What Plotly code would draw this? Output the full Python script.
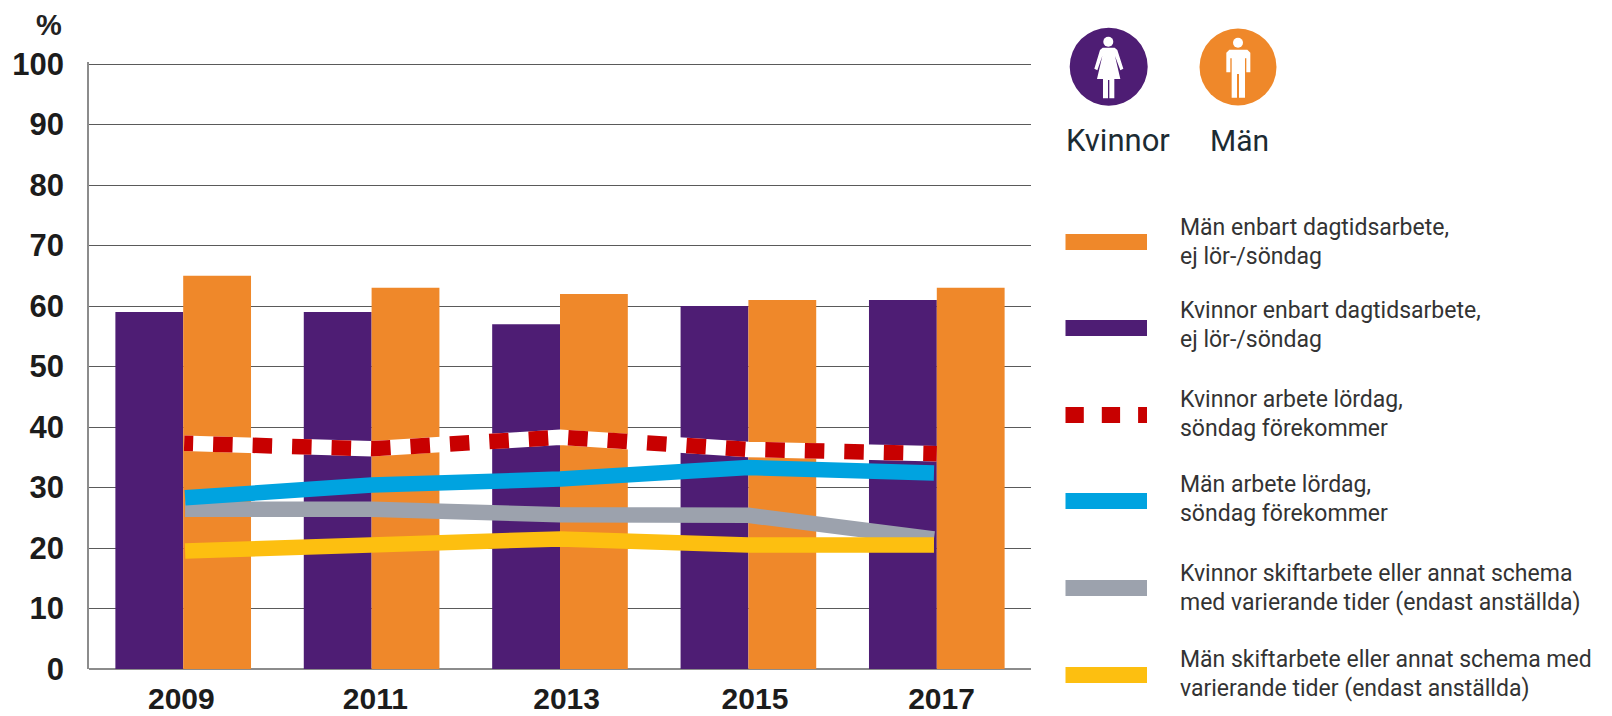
import plotly.graph_objects as go

W, H = 1612, 716

years = [2009, 2011, 2013, 2015, 2017]
tick_positions = [2008.98, 2011.04, 2013.07, 2015.07, 2017.05]
tick_labels = ["2009", "2011", "2013", "2015", "2017"]
y_ticks = [0, 10, 20, 30, 40, 50, 60, 70, 80, 90, 100]

women_day = [59, 59, 57, 60, 61]
men_day = [65, 63, 62, 61, 63]
women_weekend = [37.3, 36.4, 38.3, 36.3, 35.6]
men_weekend = [28.3, 30.4, 31.4, 33.3, 32.4]
women_shift = [26.4, 26.4, 25.5, 25.4, 21.5]
men_shift = [19.5, 20.5, 21.5, 20.5, 20.5]
line_x = [2009.02, 2011, 2013, 2015, 2016.97]

legend_items = [
    ("Män enbart dagtidsarbete,", "ej lör-/söndag", "#EF882A", 242, 242),
    ("Kvinnor enbart dagtidsarbete,", "ej lör-/söndag", "#4E1D74", 328, 325),
    ("Kvinnor arbete lördag,", "söndag förekommer", "#C80000", 415, 414),
    ("Män arbete lördag,", "söndag förekommer", "#00A3E0", 501, 499),
    ("Kvinnor skiftarbete eller annat schema", "med varierande tider (endast anställda)", "#9CA2AD", 588, 588),
    ("Män skiftarbete eller annat schema med", "varierande tider (endast anställda)", "#FDBF10", 675, 674),
]


def fx(x):
    return x / W


def fy(y):
    return 1 - y / H


def path(points):
    return "M" + " L".join(f"{fx(x):.5f},{fy(y):.5f}" for x, y in points) + " Z"


def zoom_pts(points):
    return [(1040 + a / 3, b / 3) for a, b in points]


fig = go.Figure()
fig.add_bar(x=years, y=women_day, marker=dict(color="#4E1D74", line_width=0), name="Kvinnor enbart dagtidsarbete")
fig.add_bar(x=years, y=men_day, marker=dict(color="#EF882A", line_width=0), name="Män enbart dagtidsarbete")

dash = "9px,20px," + ",".join(["19.5px,20px"] * 22)
x_red = [2009.01, 2011, 2013, 2015, 2017]
fig.add_scatter(x=x_red, y=women_weekend, mode="lines", line=dict(color="white", width=15.5), hoverinfo="skip")
fig.add_scatter(x=x_red, y=women_weekend, mode="lines", line=dict(color="#C80000", width=15.5, dash=dash), name="Kvinnor arbete lördag")
fig.add_scatter(x=line_x, y=women_shift, mode="lines", line=dict(color="#9CA2AD", width=15.5), name="Kvinnor skiftarbete")
fig.add_scatter(x=line_x, y=men_weekend, mode="lines", line=dict(color="#00A3E0", width=15.5), name="Män arbete lördag")
fig.add_scatter(x=line_x, y=men_shift, mode="lines", line=dict(color="#FDBF10", width=15.5), name="Män skiftarbete")

shapes = []
annotations = []

# Legend keys and text
for first, second, color, key_y, text_y in legend_items:
    line = dict(color=color, width=16)
    if color == "#C80000":
        line["dash"] = "18.3px,18px"
    shapes.append(dict(type="line", xref="paper", yref="paper", x0=fx(1065.5), x1=fx(1147),
                       y0=fy(key_y), y1=fy(key_y), line=line))
    for label, offset in ((first, -14.5), (second, 14.5)):
        annotations.append(dict(text=label, xref="paper", yref="paper", x=fx(1178), y=fy(text_y + offset),
                                xanchor="left", yanchor="middle", align="left", showarrow=False,
                                font=dict(family="Roboto", size=23, color="#333333")))

# Icons
for cx, cy, r, color in [(1108.7, 66.7, 39, "#4E1D74"), (1238, 67, 38.5, "#EF882A")]:
    shapes.append(dict(type="circle", xref="paper", yref="paper", x0=fx(cx - r), x1=fx(cx + r),
                       y0=fy(cy - r), y1=fy(cy + r), fillcolor=color, line_width=0))

for cx, cy in [(1108.3, 41.7), (1238, 42.7)]:
    shapes.append(dict(type="circle", xref="paper", yref="paper", x0=fx(cx - 5), x1=fx(cx + 5),
                       y0=fy(cy - 5), y1=fy(cy + 5), fillcolor="white", line_width=0))

woman = [(188, 143), (224, 143), (232, 150), (250, 206), (241, 211), (225, 168), (241, 237), (223, 237), (223, 295),
         (208, 295), (208, 240), (204, 240), (204, 295), (189, 295), (189, 237), (171, 237), (187, 168), (172, 211),
         (163, 206), (180, 150)]
man = [(568, 149), (622, 149), (631, 158), (631, 217), (619, 217), (619, 175), (615, 175), (615, 293), (597, 293),
       (597, 222), (591, 222), (591, 293), (575, 293), (575, 175), (571, 175), (571, 217), (559, 217), (559, 158)]
for poly in (woman, man):
    shapes.append(dict(type="path", xref="paper", yref="paper", path=path(zoom_pts(poly)),
                       fillcolor="white", line_width=0))

for text, x, size in [("Kvinnor", 1117.5, 31), ("Män", 1239, 30)]:
    annotations.append(dict(text=text, xref="paper", yref="paper", x=fx(x), y=fy(140.5), xanchor="center",
                            yanchor="middle", showarrow=False,
                            font=dict(family="Roboto", size=size, color="#1c2b33")))

annotations.append(dict(text="<b>%</b>", xref="paper", yref="paper", x=fx(49.3), y=fy(25), xanchor="center",
                        yanchor="middle", showarrow=False,
                        font=dict(family="Liberation Sans", size=29, color="#222222")))

fig.update_layout(
    width=W, height=H, margin=dict(l=0, r=0, t=0, b=0),
    paper_bgcolor="white", plot_bgcolor="white",
    barmode="group", bargap=0.28, bargroupgap=0, showlegend=False,
    shapes=shapes, annotations=annotations,
    xaxis=dict(domain=[fx(89), fx(1031)], range=[2008, 2018], tickmode="array",
               tickvals=tick_positions, ticktext=tick_labels, ticks="", showgrid=False, zeroline=False,
               showline=False, automargin=False, ticklabelstandoff=9,
               tickfont=dict(family="Liberation Sans", size=30, color="#1c1c1c", weight="bold")),
    yaxis=dict(domain=[fy(669), fy(62.2)], range=[0, 100.3], tickmode="array", tickvals=y_ticks,
               ticks="", showgrid=True, gridcolor="#5a5a5a", gridwidth=1, zeroline=True, zerolinecolor="#8c8c8c",
               zerolinewidth=1.5, showline=True, linecolor="#8c8c8c", linewidth=1.5, automargin=False,
               ticklabelstandoff=17,
               tickfont=dict(family="Liberation Sans", size=31, color="#1c1c1c", weight="bold")),
)

fig.write_html("out.html", post_script="document.body.style.margin='0';", config={"displayModeBar": False})
